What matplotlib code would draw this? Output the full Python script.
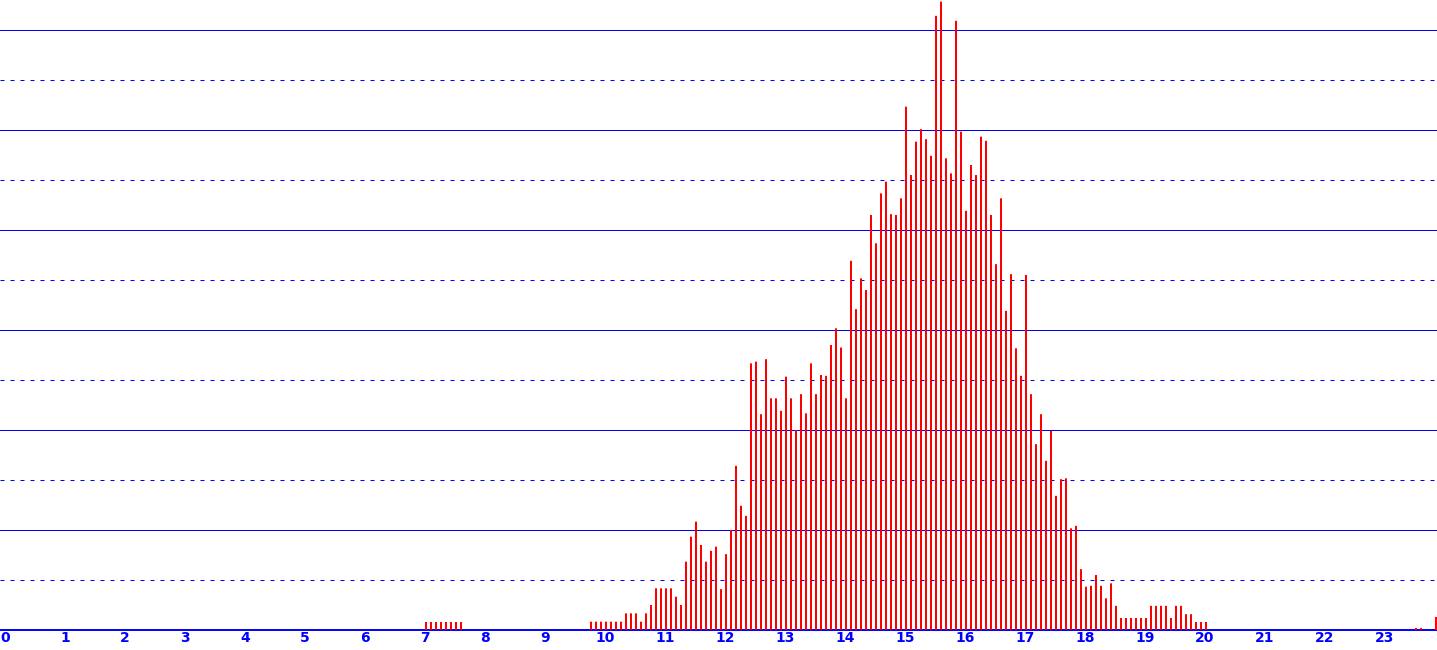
import numpy as np
import matplotlib
matplotlib.use("Agg")
import matplotlib.pyplot as plt

# 5-minute bins (1/12 hour); heights in counts (6 counts per dotted grid step)
BIN = 1 / 12

early_start = 7.0
early_values = [0.96, 0.96, 0.96, 0.96, 0.96, 0.96, 0.96, 0.96]

main_start = 9.75
main_values = [
    1, 1, 1, 1, 1, 1, 1, 2, 2, 2, 1, 2, 3, 5, 5, 5, 5, 4, 3,
    8.2, 11.2, 13, 10.2, 8.2, 9.5, 10, 4.9, 9.1, 12, 19.7, 14.9, 13.7,
    32, 32.2, 25.9, 32.5, 27.8, 27.8, 26.3, 30.4, 27.8, 24,
    28.3, 26, 32, 28.3, 30.6, 30.5, 34.2, 36.2, 33.9, 27.8,
    44.3, 38.5, 42.2, 40.8, 49.8, 46.4, 52.4, 53.8, 49.9, 49.8,
    51.8, 62.8, 54.6, 58.6, 60.1, 58.9, 56.9, 73.7, 75.4, 56.6,
    54.8, 73.1, 59.8, 50.3, 55.8, 54.6, 59.2, 58.7, 49.8, 43.9,
    51.8, 38.3, 42.7, 33.8, 30.5, 42.6, 28.3, 22.3, 25.9, 20.3,
    23.9, 16.1, 18.1, 18.2, 12.2, 12.5, 7.3, 5.2, 5.3, 6.6,
    5.3, 3.8, 5.6, 2.9,
    1.44, 1.44, 1.44, 1.44, 1.44, 1.44,
    2.9, 2.9, 2.9, 2.9,
    1.44, 2.9, 2.9, 1.9, 1.9, 0.96, 0.96, 0.96,
]

late_times = [23.5, 23.583, 23.833]
late_values = [0.25, 0.25, 1.56]

hour_labels = [str(h) for h in range(24)]

RED = "#ff0000"
BLUE = "#0000ff"
PX = 1 / 60  # one pixel in hours


def main():
    fig = plt.figure(figsize=(14.37, 6.5), dpi=100)
    ax = fig.add_axes([0, 20 / 650, 1, 630 / 650])

    ymax = 630 / (50 / 6)
    ax.set_xlim(-5 * PX, 1432 * PX)
    ax.set_ylim(0, ymax)

    # grid: solid every 12, dotted in between
    for level in range(6, 76, 6):
        if level % 12 == 0:
            ax.axhline(level, color=BLUE, lw=0.72, zorder=1)
        else:
            ax.axhline(level, color=BLUE, lw=0.72, ls=(0, (4, 6)), zorder=1)
    ax.axhline(0, color=BLUE, lw=1.4, zorder=1, clip_on=False)

    times = np.concatenate([
        early_start + BIN * np.arange(len(early_values)),
        main_start + BIN * np.arange(len(main_values)),
        np.array(late_times),
    ])
    heights = np.concatenate([early_values, main_values, late_values])

    bars = ax.bar(times, heights, width=2 * PX, align="edge", color=RED,
                  linewidth=0, zorder=2)
    for b in bars:
        b.set_snap(False)

    for spine in ax.spines.values():
        spine.set_visible(False)
    ax.set_yticks([])
    ax.set_xticks(np.arange(24))
    ax.set_xticklabels(hour_labels, color=BLUE, fontsize=10, fontweight="bold")
    ax.tick_params(axis="x", length=0, pad=1)

    fig.savefig("out.png", dpi=100)
    plt.close(fig)


if __name__ == "__main__":
    main()
